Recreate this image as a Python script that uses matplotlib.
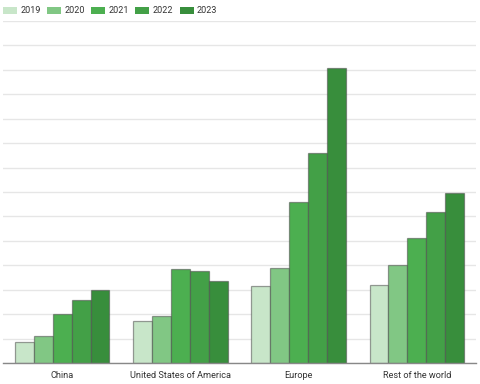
import matplotlib
matplotlib.use("Agg")
import matplotlib.pyplot as plt
import numpy as np
from matplotlib.patches import Patch

categories = ["China", "United States of America", "Europe", "Rest of the world"]
years = ["2019", "2020", "2021", "2022", "2023"]
values = {
    "2019": [0.88, 1.73, 3.15, 3.18],
    "2020": [1.12, 1.92, 3.90, 4.02],
    "2021": [2.02, 3.86, 6.60, 5.10],
    "2022": [2.56, 3.78, 8.58, 6.19],
    "2023": [3.00, 3.34, 12.07, 6.97],
}
colors = ["#c8e6c9", "#81c784", "#4caf50", "#43a047", "#388e3c"]

plt.rcParams['font.family'] = ['Roboto', 'DejaVu Sans']
fig = plt.figure(figsize=(4.8, 3.84), dpi=100)
ax = fig.add_axes([3/480, 21/384, 473/480, 342/384])

n = len(years)
group_w = 0.8
bw = group_w / n
x = np.arange(len(categories))
for i, y in enumerate(years):
    ax.bar(x - group_w/2 + bw*(i+0.5), values[y], width=bw, color=colors[i],
           edgecolor=(0.3, 0.3, 0.3, 0.55), linewidth=0.9, zorder=3)

ax.set_xlim(-0.5, len(categories)-0.5)
ax.set_ylim(0, 14)
ax.set_yticks(np.arange(0, 15, 1))
ax.yaxis.grid(True, color="#e6e6e6", linewidth=1, zorder=0)
ax.tick_params(axis='y', left=False, labelleft=False)
ax.tick_params(axis='x', length=0, labelsize=6.6, colors="#333333", pad=6)
ax.set_xticks(x)
ax.set_xticklabels(categories)
for s in ["top", "right", "left"]:
    ax.spines[s].set_visible(False)
ax.spines["bottom"].set_color("#888888")
ax.spines["bottom"].set_linewidth(1)
ax.spines["bottom"].set_zorder(4)

handles = [Patch(facecolor=c, edgecolor='none') for c in colors]
fig.legend(handles, years, loc="upper left", bbox_to_anchor=(0.0, 0.992), ncol=5,
           frameon=False, fontsize=6.5, handlelength=1.55, handleheight=0.8,
           columnspacing=0.72, handletextpad=0.35, borderaxespad=0.25,
           borderpad=0.1, labelcolor="#333333")

fig.savefig("out.png", dpi=100)
